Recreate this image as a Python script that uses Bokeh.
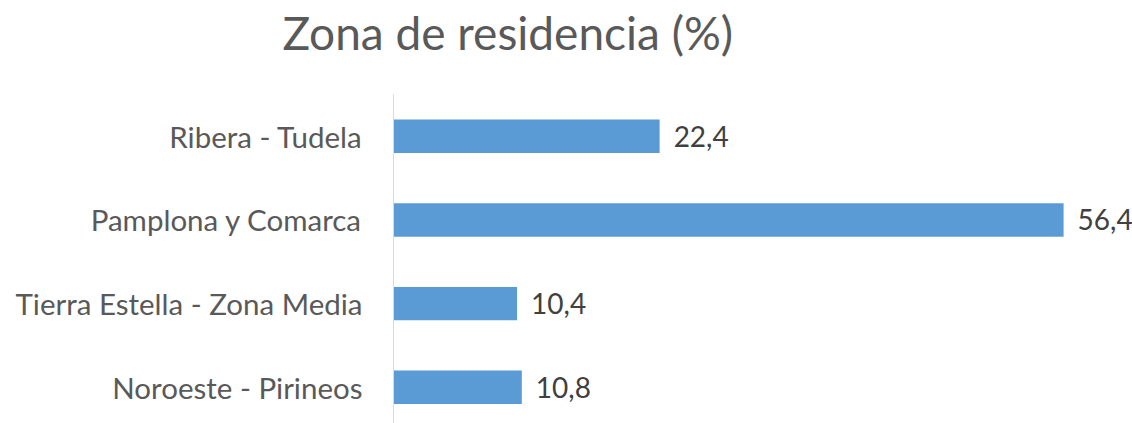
from bokeh.plotting import figure
from bokeh.models import Range1d, FixedTicker, ColumnDataSource, LabelSet, Title
from bokeh.core.properties import value
from bokeh.embed import file_html
from bokeh.resources import INLINE

title = "Zona de residencia (%)"
categories = ["Ribera - Tudela", "Pamplona y Comarca", "Tierra Estella - Zona Media", "Noroeste - Pirineos"]
values = [22.4, 56.4, 10.4, 10.8]

n = len(categories)
ypos = [n - i - 0.5 for i in range(n)]
labels = [f"{v:.1f}".replace(".", ",") for v in values]

src = ColumnDataSource(dict(y=ypos, v=values, lab=labels))

p = figure(width=1132, height=423, output_backend="svg", toolbar_location=None, title=None,
           x_range=Range1d(0, 62.2), y_range=Range1d(0.067, 4.0),
           min_border_left=393, min_border_right=0, min_border_bottom=0, min_border_top=0)

# spacer panel between frame and title, then the title itself
p.add_layout(Title(text=" ", text_font_size="1px", standoff=29), "above")
p.add_layout(Title(text=title, align="left", offset=-111,
                   text_font="Lato", text_font_size="46px", text_font_style="normal",
                   text_color="#595959", standoff=5), "above")

p.hbar(y="y", right="v", left=0, height=0.4, source=src,
       fill_color="#5B9BD5", line_color=None)

p.add_layout(LabelSet(x="v", y="y", text="lab", source=src, x_offset=14,
                      text_baseline="middle", text_align="left",
                      text_font=value("Lato"), text_font_size=value("28px"),
                      text_color="#404040"))

p.xaxis.visible = False
p.xgrid.visible = False
p.ygrid.visible = False
p.outline_line_color = None

ya = p.yaxis[0]
ya.ticker = FixedTicker(ticks=ypos)
ya.major_label_overrides = {y: c for y, c in zip(ypos, categories)}
ya.major_tick_line_color = None
ya.minor_tick_line_color = None
ya.major_tick_out = 0
ya.major_tick_in = 0
ya.major_label_standoff = 31
ya.axis_line_color = "#D9D9D9"
ya.axis_line_width = 1
ya.major_label_text_font = "Lato"
ya.major_label_text_font_size = "29.5px"
ya.major_label_text_color = "#595959"

open("out.html", "w").write(file_html(p, INLINE))
